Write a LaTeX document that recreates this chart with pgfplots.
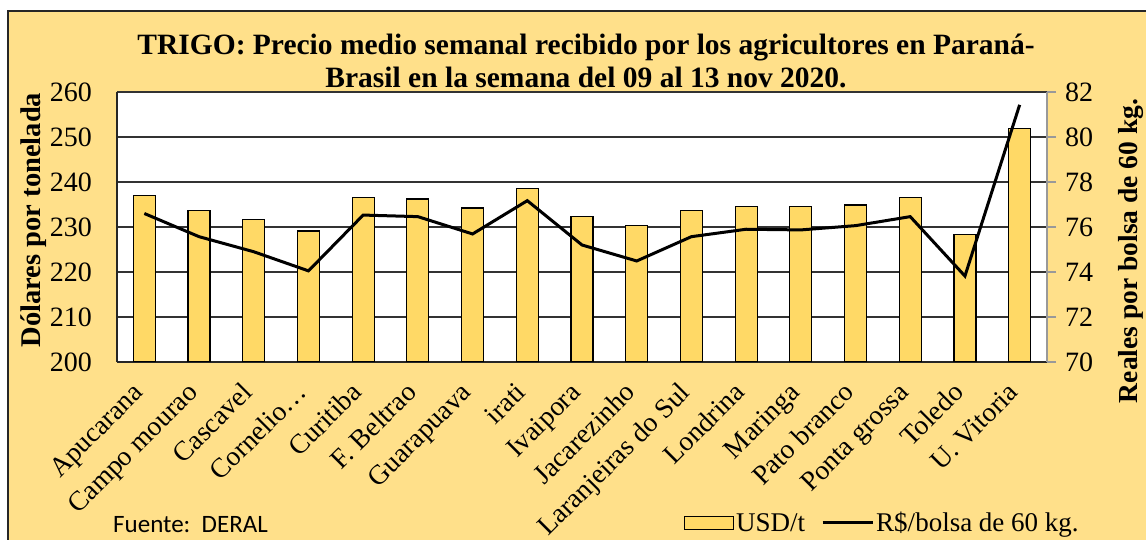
\documentclass[border=0pt]{standalone}
\usepackage{fontspec}
\setmainfont{Liberation Serif}
\newfontfamily\calibri{Carlito}
\usepackage{pgfplots}
\pgfplotsset{compat=1.18}
\definecolor{bgcol}{RGB}{255,224,138}
\definecolor{barcol}{RGB}{255,217,102}
\begin{document}
\begin{tikzpicture}[x=1pt,y=1pt]
\fill[white] (0,0) rectangle (1146,540);
\fill[bgcol] (8,0) rectangle (1146,529);
\draw[line width=2pt, draw=black!85] (8,0) -- (8,529) -- (1146,529);
\begin{axis}[
  scale only axis, width=930pt, height=270pt,
  at={(117pt,178pt)}, anchor=south west,
  xmin=-0.5, xmax=16.5, ymin=200, ymax=260,
  ytick={200,210,...,260},
  xtick={0,...,16},
  xticklabels={Apucarana,Campo mourao,Cascavel,Cornelio…,Curitiba,F. Beltrao,Guarapuava,irati,Ivaipora,Jacarezinho,Laranjeiras do Sul,Londrina,Maringa,Pato branco,Ponta grossa,Toledo,U. Vitoria},
  axis x line*=bottom, axis y line*=left,
  axis line style={black!85, line width=1.3pt},
  ymajorgrids, grid style={black!80, line width=1.2pt},
  major tick length=0pt,
  axis background/.style={fill=white},
  /pgf/number format/assume math mode=true,
  yticklabel style={font=\fontsize{28}{30}\selectfont, anchor=east, inner sep=0pt, xshift=-25pt},
  xticklabel style={font=\fontsize{27.5}{30}\selectfont, xshift=0pt, yshift=-32pt, rotate=45, anchor=base east, inner sep=0pt},
  legend style={at={(axis description cs:0.6097,-0.596)}, anchor=west, draw=none, fill=none, inner sep=0pt, outer sep=0pt, font=\fontsize{27}{29}\selectfont, legend columns=-1, /tikz/every even column/.append style={column sep=14pt}, legend cell align=left},
]
\addplot[ybar, bar width=22pt, fill=barcol, draw=black, line width=1.2pt,
  legend image code/.code={\draw[fill=barcol, draw=black, line width=1.2pt] (0pt,-6.5pt) rectangle (49pt,6.5pt);}]
  coordinates {(0,237.0) (1,233.6) (2,231.6) (3,229.1) (4,236.6) (5,236.2) (6,234.2) (7,238.6) (8,232.4) (9,230.4) (10,233.7) (11,234.5) (12,234.5) (13,234.9) (14,236.6) (15,228.3) (16,251.8)};
\addlegendentry{USD/t}
\addlegendimage{legend image code/.code={\draw[line width=3pt, black] (0pt,0pt) -- (50pt,0pt);}}
\addlegendentry{R\$/bolsa de 60 kg.}
\end{axis}
\begin{axis}[
  scale only axis, width=930pt, height=270pt,
  at={(117pt,178pt)}, anchor=south west,
  xmin=-0.5, xmax=16.5, ymin=70, ymax=82,
  ytick={70,72,...,82},
  axis x line=none, axis y line*=right,
  axis line style={black!40, line width=1.3pt},
  tick style={black!40, line width=1.2pt},
  tick align=outside, major tick length=9pt,
  /pgf/number format/assume math mode=true,
  yticklabel style={font=\fontsize{28}{30}\selectfont, anchor=west, inner sep=0pt, xshift=9pt},
]
\addplot[black, line width=3pt, mark=none]
  coordinates {(0,76.60) (1,75.57) (2,74.90) (3,74.05) (4,76.53) (5,76.46) (6,75.69) (7,77.17) (8,75.20) (9,74.49) (10,75.57) (11,75.90) (12,75.87) (13,76.06) (14,76.46) (15,73.82) (16,81.43)};
\end{axis}
\node[font=\bfseries\fontsize{29.5}{32}\selectfont, anchor=base] at (586,485) {TRIGO: Precio medio semanal recibido por los agricultores en Paraná-};
\node[font=\bfseries\fontsize{29.5}{32}\selectfont, anchor=base] at (586,452) {Brasil en la semana del 09 al 13 nov 2020.};
\node[font=\bfseries\fontsize{28.5}{30}\selectfont, rotate=90, anchor=north, inner sep=0pt] at (20,320) {Dólares por tonelada};
\node[font=\bfseries\fontsize{27.5}{30}\selectfont, rotate=90, anchor=north, inner sep=0pt] at (1118,289) {Reales por bolsa de 60 kg.};
\node[font=\calibri\fontsize{25}{27}\selectfont, anchor=base west, inner sep=0pt] at (113,7) {Fuente:\ \ DERAL};
\pgfresetboundingbox
\path[use as bounding box] (0,0) rectangle (1146,540);
\end{tikzpicture}
\end{document}
